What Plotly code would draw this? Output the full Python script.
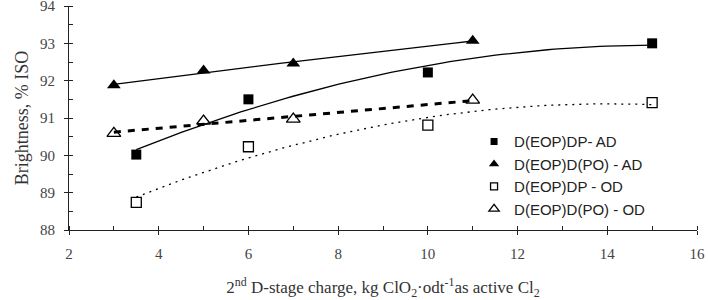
import numpy as np
import plotly.graph_objects as go

# Data
x_dp = [3.5, 6, 10, 15]
x_dpo = [3, 5, 7, 11]
dp_ad = [90.02, 91.50, 92.22, 93.00]
dpo_ad = [91.88, 92.27, 92.46, 93.07]
dp_od = [88.74, 90.23, 90.81, 91.41]
dpo_od = [90.59, 90.92, 90.97, 91.48]
names = ["D(EOP)DP- AD", "D(EOP)D(PO) - AD", "D(EOP)DP - OD", "D(EOP)D(PO) - OD"]
x_ticks = [2, 4, 6, 8, 10, 12, 14, 16]
y_ticks = [88, 89, 90, 91, 92, 93, 94]

def trend(xs, ys, deg):
    c = np.polyfit(xs, ys, deg)
    xx = np.linspace(min(xs), max(xs), 80)
    return xx, np.polyval(c, xx)

fig = go.Figure()

series = [
    (x_dp, dp_ad, 2, dict(color="black", width=1.3), dict(symbol="square", size=10, color="black")),
    (x_dpo, dpo_ad, 2, dict(color="black", width=1.3), dict(symbol="triangle-up", size=12, color="black")),
    (x_dp, dp_od, 2, dict(color="black", width=1.3, dash="2px,5px"),
     dict(symbol="square-open", size=10, color="black", line=dict(width=1.3))),
    (x_dpo, dpo_od, 1, dict(color="black", width=3, dash="7px,7px"),
     dict(symbol="triangle-up-open", size=12, color="black", line=dict(width=1.3))),
]

for xs, ys, deg, ln, mk in series:
    xx, yy = trend(xs, ys, deg)
    fig.add_trace(go.Scatter(x=xx, y=yy, mode="lines", line=ln, showlegend=False, hoverinfo="skip"))

for (xs, ys, deg, ln, mk), nm in zip(series, names):
    fig.add_trace(go.Scatter(x=xs, y=ys, mode="markers", marker=mk, showlegend=False, name=nm))

for i, ((xs, ys, deg, ln, mk), nm) in enumerate(zip(series, names)):
    lm = dict(mk)
    lm["size"] = 7 if "square" in mk["symbol"] else 9
    fig.add_trace(go.Scatter(x=[None], y=[None], mode="markers", marker=lm, name=nm,
                             legendgroup="g%d" % i, showlegend=True))

serif = "Liberation Serif"
axis_common = dict(showline=True, linecolor="#222", linewidth=1.2, showgrid=False, zeroline=False,
                   ticks="outside", ticklen=4, tickwidth=1.2, tickcolor="#222",
                   ticklabeloverflow="allow", automargin=False,
                   tickfont=dict(family=serif, size=15, color="#444"))

fig.update_layout(
    width=708, height=300,
    margin=dict(l=69, r=11, t=6, b=70),
    paper_bgcolor="white", plot_bgcolor="white",
    showlegend=True,
    legend=dict(x=0.645, y=0.468, xanchor="left", yanchor="top", bgcolor="rgba(0,0,0,0)",
                font=dict(family="Liberation Sans", size=15, color="#222"),
                tracegroupgap=0, itemwidth=30),
    xaxis=dict(range=[2, 16], tickvals=x_ticks, **axis_common, ticklabelstandoff=6,
               minor=dict(dtick=1, ticks="inside", ticklen=4, tickwidth=1.2, tickcolor="#222"),
               title=dict(text="2<sup>nd</sup> D-stage charge, kg ClO<sub>2</sub>·odt<sup>-1</sup>as active Cl<sub>2</sub>",
                          font=dict(family=serif, size=17, color="#333"), standoff=22)),
    yaxis=dict(range=[88, 94], tickvals=y_ticks, **axis_common, ticklabelstandoff=6,
               minor=dict(dtick=0.5, ticks="inside", ticklen=4, tickwidth=1.2, tickcolor="#222"),
               title=dict(text="Brightness, % ISO", font=dict(family=serif, size=18, color="#333"), standoff=6)),
    xaxis2=dict(range=[2, 16], overlaying="x", side="bottom", anchor="y", tickvals=x_ticks, ticks="inside",
                ticklen=4, tickwidth=1.2, tickcolor="#222", showticklabels=False, showline=False,
                showgrid=False, zeroline=False, automargin=False),
    yaxis2=dict(range=[88, 94], overlaying="y", side="left", anchor="x", tickvals=y_ticks, ticks="inside",
                ticklen=4, tickwidth=1.2, tickcolor="#222", showticklabels=False, showline=False,
                showgrid=False, zeroline=False, automargin=False),
)
# dummy trace to activate overlay axes
fig.add_trace(go.Scatter(x=[None], y=[None], xaxis="x2", yaxis="y2", showlegend=False, hoverinfo="skip"))

fig.write_html("out.html")
